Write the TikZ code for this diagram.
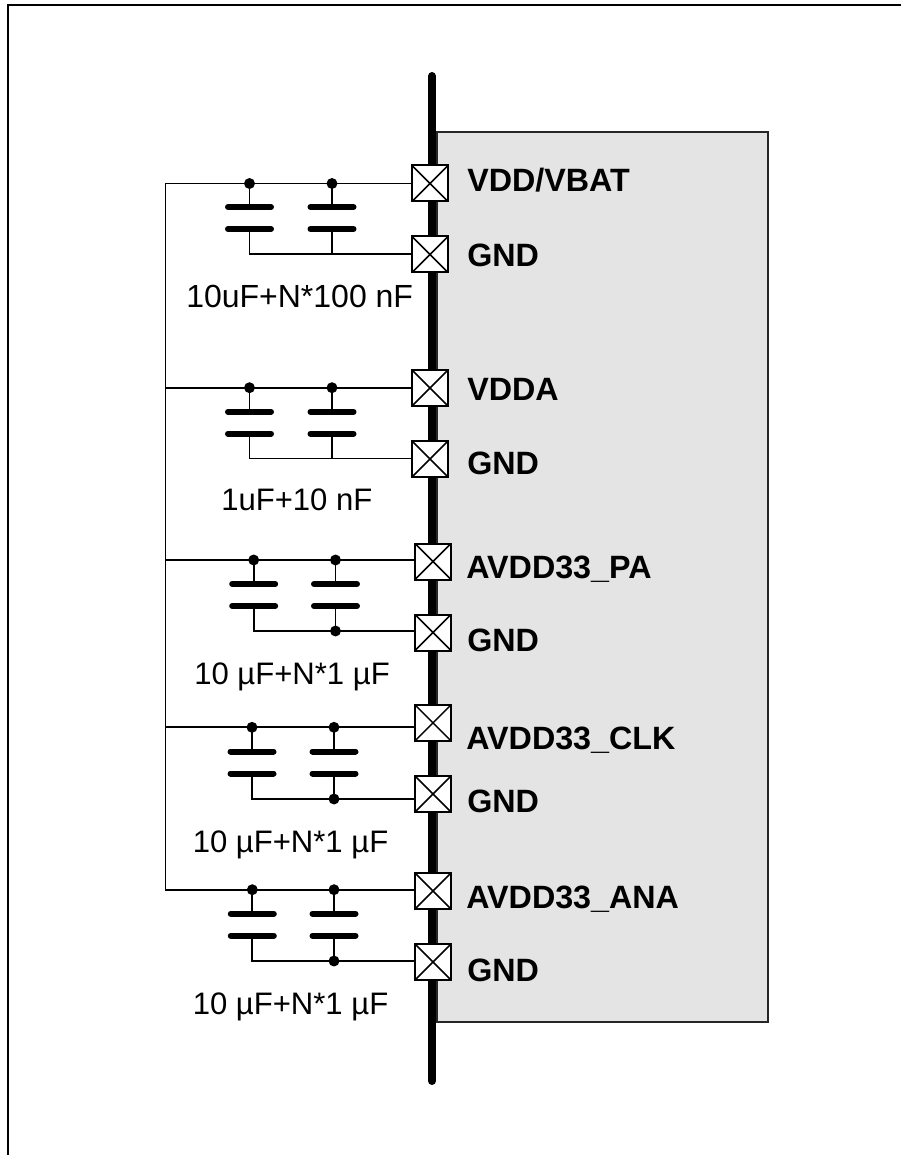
\documentclass[tikz,border=0pt]{standalone}
\usepackage{fontspec}
\setmainfont{Liberation Sans}
\definecolor{boxgrey}{HTML}{E4E4E4}
\newcommand{\pinfont}{\fontsize{24.2}{27}\selectfont\bfseries}
\newcommand{\valfont}{\fontsize{23.3}{26}\selectfont}
\newcommand{\valfontb}{\fontsize{24}{27}\selectfont}
\tikzset{
  x=0.75pt,y=-0.75pt,
  frameline/.style={line width=1.5pt,black},
  chipbox/.style={fill=boxgrey,draw=black!85,line width=1.3pt},
  busline/.style={line width=6pt,line cap=round,black},
  wire/.style={line width=1.4pt,black},
  plate/.style={line width=4.5pt,line cap=round,black},
  jdot/.style={circle,fill=black,inner sep=0pt,minimum size=8.2pt},
  pad/.style={rectangle,draw=black,fill=white,line width=1.5pt,minimum size=27pt,inner sep=0pt,
    path picture={\draw[line width=1.1pt] (path picture bounding box.north west)--(path picture bounding box.south east)
      (path picture bounding box.north east)--(path picture bounding box.south west);}},
  pinlabel/.style={anchor=base west,inner sep=0pt,font=\pinfont},
  vallabel/.style={anchor=base west,inner sep=0pt,font=\valfont},
}
\begin{document}
\begin{tikzpicture}
\useasboundingbox (0,0) rectangle (901,1155);
\coordinate (fa) at (8,1155);
\coordinate (fb) at (8,5.3);
\coordinate (fc) at (901,5.3);
\draw[frameline] (fa)--(fb)--(fc);
\node[chipbox,anchor=north west,minimum width=248.25pt,minimum height=667.5pt,inner sep=0pt] (chip) at (436,131) {};
\coordinate (bust) at (432,76);
\coordinate (busb) at (432,1081);
\draw[busline] (bust)--(busb);
% rows: id / x1 / x2 / pad x / supply pad y / supply wire y / plate1 y / plate2 y / gnd pad y / gnd wire y
\foreach \r/\xa/\xb/\px/\pv/\wv/\pa/\pb/\pg/\wg in {
  1/249.5/332/430/183.5/183.5/207/229/254.5/254,
  2/249.5/332/430/388/387.7/411.7/433.7/459/458.5,
  3/253.7/335.5/433/561.5/560/584/606/632.5/631,
  4/252/334/433/722.8/727.3/751.5/773.5/794/799,
  5/252.3/334/433/891/889.7/913.7/935.7/962/961}{
  \node[pad] (pv\r) at (\px,\pv) {};
  \node[pad] (pg\r) at (\px,\pg) {};
  \node[jdot] (da\r) at (\xa,\wv) {};
  \node[jdot] (db\r) at (\xb,\wv) {};
  \coordinate (ga\r) at (\xa,\wg);
  \coordinate (gb\r) at (\xb,\wg);
  \coordinate (ra\r) at (165.5,\wv);
  \coordinate (pe\r) at (\px-19,\wv);
  \coordinate (ge\r) at (\px-19,\wg);
  \draw[wire] (ra\r)--(pe\r);
  \draw[wire,line cap=rect] (ga\r)--(ge\r);
  \draw[wire] (da\r.center)--(\xa,\pa) (db\r.center)--(\xb,\pa);
  \draw[wire] (\xa,\pb)--(ga\r) (\xb,\pb)--(gb\r);
  \draw[plate] (\xa-21.5,\pa)--(\xa+21.5,\pa);
  \draw[plate] (\xb-21.5,\pa)--(\xb+21.5,\pa);
  \draw[plate] (\xa-21.5,\pb)--(\xa+21.5,\pb);
  \draw[plate] (\xb-21.5,\pb)--(\xb+21.5,\pb);
}
\foreach \r in {3,4,5}{\node[jdot] (dg\r) at (gb\r) {};}
\draw[wire,line cap=rect] (ra1)--(ra5);
\node[pinlabel] (l1) at (467,192) {VDD/VBAT};
\node[pinlabel] (l2) at (467,266.5) {GND};
\node[pinlabel] (l3) at (467,400.5) {VDDA};
\node[pinlabel] (l4) at (467,474.5) {GND};
\node[pinlabel] (l5) at (466,578) {AVDD33\_PA};
\node[pinlabel] (l6) at (467,651) {GND};
\node[pinlabel] (l7) at (466,749) {AVDD33\_CLK};
\node[pinlabel] (l8) at (467,812) {GND};
\node[pinlabel] (l9) at (466,908) {AVDD33\_ANA};
\node[pinlabel] (l10) at (467,981) {GND};
\node[vallabel,font=\valfontb] (v1) at (186,307) {10uF+N*100 nF};
\node[vallabel] (v2) at (221,510.7) {1uF+10 nF};
\node[vallabel] (v3) at (194,684) {10 µF+N*1 µF};
\node[vallabel] (v4) at (192.5,852) {10 µF+N*1 µF};
\node[vallabel] (v5) at (192.5,1014) {10 µF+N*1 µF};
\end{tikzpicture}
\end{document}
